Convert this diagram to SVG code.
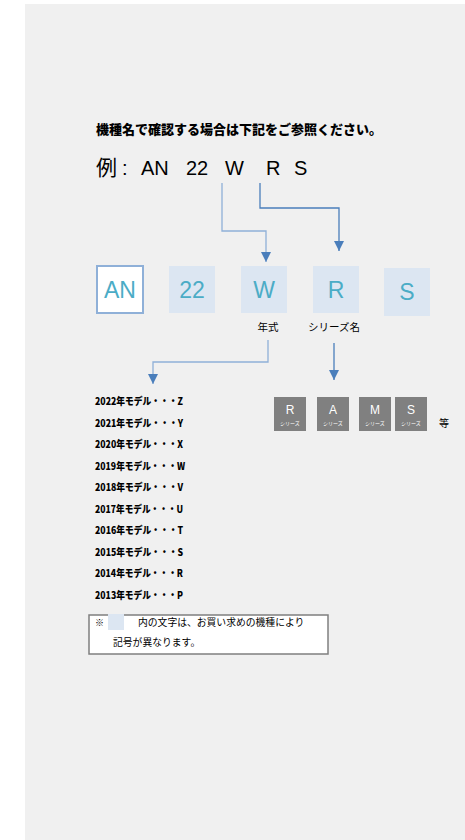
<svg xmlns="http://www.w3.org/2000/svg" width="465" height="840" viewBox="0 0 465 840">
<defs>
<style>
.jp{font-family:"Noto Sans CJK JP","Noto Sans",sans-serif;fill:#000}
.lat{font-family:"Liberation Sans",Arial,sans-serif;fill:#000}
.code{font-family:"Liberation Sans",Arial,sans-serif;font-size:23px;fill:#4bacc6;text-anchor:middle}
.box{fill:#dce6f2}
.ser{fill:#808080}
.sl{font-family:"Liberation Sans",Arial,sans-serif;font-size:12px;fill:#fff;text-anchor:middle}
.ss{font-family:"Noto Sans CJK JP",sans-serif;font-size:5px;fill:#fff;text-anchor:middle}
.yr{font-family:"Noto Sans CJK JP","Liberation Sans",sans-serif;font-size:10px;font-weight:900;fill:#000}
.c1{fill:none;stroke:#8fb0d8;stroke-width:1.3}
.c2{fill:none;stroke:#4a7ebb;stroke-width:1.3}
</style>
<marker id="ah" viewBox="0 0 10 10" refX="10" refY="5" markerWidth="10" markerHeight="10" markerUnits="userSpaceOnUse" orient="auto">
<path d="M0,0 L10,5 L0,10 Z" fill="#4a7ebb"/>
</marker>
</defs>
<rect x="25" y="4" width="440" height="836" fill="#f0f0f0"/>

<g id="title">
<text class="jp" x="96" y="134" font-size="13" font-weight="900">機種名で確認する場合は下記をご参照ください。</text>
</g>
<g id="example">
<text class="jp" x="96" y="175" font-size="21">例</text>
<text class="lat" x="122" y="175" font-size="20">:</text>
<text class="lat" x="141" y="175" font-size="20">AN</text>
<text class="lat" x="186" y="175" font-size="20">22</text>
<text class="lat" x="225" y="175" font-size="20">W</text>
<text class="lat" x="266" y="175" font-size="20">R</text>
<text class="lat" x="294" y="175" font-size="20">S</text>
</g>

<g id="connectors">
<polyline class="c1" points="222,183 222,231 266,231 266,262" marker-end="url(#ah)"/>
<polyline class="c2" points="260,183 260,208 339,208 339,251" marker-end="url(#ah)"/>
<polyline class="c1" points="268,340 268,362 153,362 153,384" marker-end="url(#ah)"/>
<polyline class="c2" points="334,343 334,380" marker-end="url(#ah)"/>
</g>

<g id="box-AN">
<rect x="97" y="266" width="46" height="47" fill="#fff" stroke="#8fb0d8" stroke-width="2"/>
<text class="code" x="120" y="298">AN</text>
</g>
<g id="box-22">
<rect class="box" x="169" y="266" width="46" height="47"/>
<text class="code" x="192" y="298">22</text>
</g>
<g id="box-W">
<rect class="box" x="241" y="266" width="46" height="47"/>
<text class="code" x="264" y="298">W</text>
</g>
<g id="box-R">
<rect class="box" x="313" y="266" width="46" height="47"/>
<text class="code" x="336" y="298">R</text>
</g>
<g id="box-S">
<rect class="box" x="384" y="268" width="46" height="48"/>
<text class="code" x="407" y="300">S</text>
</g>

<g id="label-nenshiki">
<text class="jp" x="268" y="331" font-size="10.5" text-anchor="middle">年式</text>
</g>
<g id="label-series">
<text class="jp" x="334" y="331" font-size="10.5" text-anchor="middle">シリーズ名</text>
</g>

<g id="years">
<text class="yr" x="95" y="405" textLength="88" lengthAdjust="spacingAndGlyphs">2022年モデル・・・Z</text>
<text class="yr" x="95" y="426.5" textLength="88" lengthAdjust="spacingAndGlyphs">2021年モデル・・・Y</text>
<text class="yr" x="95" y="448" textLength="88" lengthAdjust="spacingAndGlyphs">2020年モデル・・・X</text>
<text class="yr" x="95" y="469.5" textLength="90" lengthAdjust="spacingAndGlyphs">2019年モデル・・・W</text>
<text class="yr" x="95" y="491" textLength="88" lengthAdjust="spacingAndGlyphs">2018年モデル・・・V</text>
<text class="yr" x="95" y="512.5" textLength="88" lengthAdjust="spacingAndGlyphs">2017年モデル・・・U</text>
<text class="yr" x="95" y="534" textLength="88" lengthAdjust="spacingAndGlyphs">2016年モデル・・・T</text>
<text class="yr" x="95" y="555.5" textLength="88" lengthAdjust="spacingAndGlyphs">2015年モデル・・・S</text>
<text class="yr" x="95" y="577" textLength="88" lengthAdjust="spacingAndGlyphs">2014年モデル・・・R</text>
<text class="yr" x="95" y="598.5" textLength="88" lengthAdjust="spacingAndGlyphs">2013年モデル・・・P</text>
</g>

<g id="series-R">
<rect class="ser" x="274" y="397" width="32" height="34"/>
<text class="sl" x="290" y="414">R</text>
<text class="ss" x="290" y="425">シリーズ</text>
</g>
<g id="series-A">
<rect class="ser" x="317" y="397" width="32" height="34"/>
<text class="sl" x="333" y="414">A</text>
<text class="ss" x="333" y="425">シリーズ</text>
</g>
<g id="series-M">
<rect class="ser" x="359" y="397" width="32" height="34"/>
<text class="sl" x="375" y="414">M</text>
<text class="ss" x="375" y="425">シリーズ</text>
</g>
<g id="series-S">
<rect class="ser" x="395" y="397" width="32" height="34"/>
<text class="sl" x="411" y="414">S</text>
<text class="ss" x="411" y="425">シリーズ</text>
</g>
<g id="tou">
<text class="jp" x="439" y="427" font-size="10">等</text>
</g>

<g id="note">
<rect x="89" y="615" width="239" height="39" fill="#fff" stroke="#7f7f7f" stroke-width="1.5"/>
<text class="jp" x="95" y="626" font-size="9" fill="#444">※</text>
<rect x="108" y="614" width="16" height="16" fill="#dce6f2"/>
<text class="jp" x="138" y="626" font-size="9.8">内の文字は、お買い求めの機種により</text>
<text class="jp" x="113" y="646" font-size="9.8">記号が異なります。</text>
</g>
</svg>
